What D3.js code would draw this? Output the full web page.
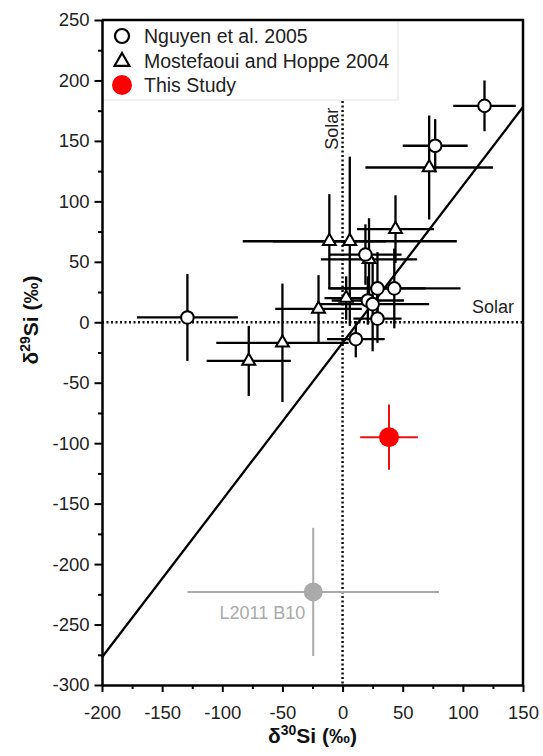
<!DOCTYPE html>
<html>
  <head>
    <meta charset="utf-8">
    <title>Si isotopes</title>
    <script src="https://d3js.org/d3.v7.min.js"></script>
    <style>
      body { margin: 0; background: #fff; }
      text { font-family: "Liberation Sans", Arial, sans-serif; }
    </style>
  </head>
  <body>

    <script>
      // ==================
      // data (per mil)
      // ==================
      // Nguyen et al. 2005 -> open circles
      const nguyenX    = [118, 77, -129, 19, 29, 43, 21, 25, 29, 11];
      const nguyenY    = [179, 146, 4, 56, 28, 28, 18, 15, 3, -14];
      const nguyenXErr = [26, 27, 42, 30, 40, 55, 30, 47, 20, 24];
      const nguyenYErr = [21, 22, 36, 25, 30, 33, 20, 39, 20, 15];

      // Mostefaoui and Hoppe 2004 -> open triangles
      const mostX    = [72, -11, 6, 44, 22, 3, -20, -50, -78];
      const mostY    = [128, 67, 67, 77, 52, 20, 11, -17, -32];
      const mostXErr = [53, 47, 89, 32, 40, 18, 36, 55, 35];
      const mostYErr = [43, 39, 70, 28, 34, 18, 28, 49, 29];

      // This study (red) and L2011 B10 (grey)
      const studyX = [38.6], studyY = [-95], studyXErr = [24], studyYErr = [27];
      const lX = [-24.4], lY = [-223], lXErr = [104.5], lYErr = [53];

      // slope line
      const lineX = [-200, 150];
      const lineY = [-277, 178];

      const xTicks = [-200, -150, -100, -50, 0, 50, 100, 150];
      const yTicks = [-300, -250, -200, -150, -100, -50, 0, 50, 100, 150, 200, 250];
      const xMinor = [-175, -125, -75, -25, 25, 75, 125];
      const yMinor = [-275, -225, -175, -125, -75, -25, 25, 75, 125, 175, 225];

      const legendLabels = ["Nguyen et al. 2005", "Mostefaoui and Hoppe 2004", "This Study"];

      function zip(xs, ys, xe, ye) {
        return xs.map(function(d, i) {
          return {x: d, y: ys[i], xe: xe[i], ye: ye[i]};
        });
      }

      // plain hyphen instead of d3's unicode minus
      function plain(d) { return String(d); }

      function drawChart() {
        const width = 543;
        const height = 756;
        const margin = {top: 20, right: 20, bottom: 71, left: 102};

        const svgContainer = d3.select("body")
          .append("svg")
            .attr("width", width)
            .attr("height", height);

        const xScale = d3.scaleLinear()
          .domain([-200, 150])
          .range([margin.left, width - margin.right]);

        const yScale = d3.scaleLinear()
          .domain([-300, 250])
          .range([height - margin.bottom, margin.top]);

        const nguyen = zip(nguyenX, nguyenY, nguyenXErr, nguyenYErr);
        const most = zip(mostX, mostY, mostXErr, mostYErr);
        const study = zip(studyX, studyY, studyXErr, studyYErr);
        const lit = zip(lX, lY, lXErr, lYErr);

        // solar reference lines (dotted)
        svgContainer.append("line")
          .attr("x1", xScale(-200)).attr("x2", xScale(150))
          .attr("y1", yScale(0)).attr("y2", yScale(0))
          .attr("stroke", "#111")
          .attr("stroke-width", 2.5)
          .attr("stroke-dasharray", "2,2.5");

        svgContainer.append("line")
          .attr("x1", xScale(0)).attr("x2", xScale(0))
          .attr("y1", yScale(250)).attr("y2", yScale(-300))
          .attr("stroke", "#111")
          .attr("stroke-width", 2.5)
          .attr("stroke-dasharray", "2,2.5");

        // slope line
        const line = d3.line()
          .x(function(d) { return xScale(d[0]); })
          .y(function(d) { return yScale(d[1]); });

        svgContainer.append("path")
          .attr("d", line(d3.zip(lineX, lineY)))
          .attr("fill", "none")
          .attr("stroke", "#000")
          .attr("stroke-width", 2.3);

        // error bars
        function errorBars(data, color, w) {
          const g = svgContainer.append("g")
            .attr("stroke", color)
            .attr("stroke-width", w);
          data.forEach(function(d) {
            g.append("line")
              .attr("x1", xScale(d.x - d.xe)).attr("x2", xScale(d.x + d.xe))
              .attr("y1", yScale(d.y)).attr("y2", yScale(d.y));
            g.append("line")
              .attr("x1", xScale(d.x)).attr("x2", xScale(d.x))
              .attr("y1", yScale(d.y - d.ye)).attr("y2", yScale(d.y + d.ye));
          });
        }

        errorBars(lit, "#aaaaaa", 2);
        errorBars(most, "#000", 2.3);
        errorBars(nguyen, "#000", 2.3);
        errorBars(study, "#ee1111", 2);

        const triangle = d3.symbol().type(d3.symbolTriangle).size(72);

        svgContainer.append("g").selectAll("path")
          .data(most)
          .enter().append("path")
            .attr("d", triangle)
            .attr("transform", function(d) {
              return "translate(" + xScale(d.x) + "," + yScale(d.y) + ")";
            })
            .attr("fill", "#fff")
            .attr("stroke", "#000")
            .attr("stroke-width", 2);

        svgContainer.append("g").selectAll("circle")
          .data(nguyen)
          .enter().append("circle")
            .attr("cx", function(d) { return xScale(d.x); })
            .attr("cy", function(d) { return yScale(d.y); })
            .attr("r", 6.3)
            .attr("fill", "#fff")
            .attr("stroke", "#000")
            .attr("stroke-width", 2);

        svgContainer.append("g").selectAll("circle")
          .data(lit)
          .enter().append("circle")
            .attr("cx", function(d) { return xScale(d.x); })
            .attr("cy", function(d) { return yScale(d.y); })
            .attr("r", 9.5)
            .attr("fill", "#aaaaaa");

        svgContainer.append("g").selectAll("circle")
          .data(study)
          .enter().append("circle")
            .attr("cx", function(d) { return xScale(d.x); })
            .attr("cy", function(d) { return yScale(d.y); })
            .attr("r", 10)
            .attr("fill", "#ff0000");

        // annotations
        svgContainer.append("text")
          .attr("x", xScale(lX[0]) - 8)
          .attr("y", yScale(lY[0]) + 27)
          .attr("text-anchor", "end")
          .attr("font-size", 18)
          .attr("fill", "#aaaaaa")
          .text("L2011 B10");

        svgContainer.append("text")
          .attr("x", xScale(150) - 9)
          .attr("y", yScale(0) - 9)
          .attr("text-anchor", "end")
          .attr("font-size", 18)
          .attr("fill", "#222")
          .text("Solar");

        svgContainer.append("text")
          .attr("transform", "translate(" + (xScale(0) - 5) + "," + yScale(160) + ") rotate(-90)")
          .attr("text-anchor", "middle")
          .attr("font-size", 18)
          .attr("fill", "#222")
          .text("Solar");

        // legend
        const legend = svgContainer.append("g");
        legend.append("rect")
          .attr("x", margin.left)
          .attr("y", margin.top)
          .attr("width", 296)
          .attr("height", 80)
          .attr("fill", "#fff")
          .attr("stroke", "#e4e4e4")
          .attr("stroke-width", 1);

        legendLabels.forEach(function(label, i) {
          const cy = 36 + i * 24.5;
          if (i === 0) {
            legend.append("circle")
              .attr("cx", 122).attr("cy", cy).attr("r", 7)
              .attr("fill", "#fff").attr("stroke", "#000").attr("stroke-width", 2.2);
          } else if (i === 1) {
            legend.append("path")
              .attr("d", d3.symbol().type(d3.symbolTriangle).size(95)())
              .attr("transform", "translate(122," + (cy + 1) + ")")
              .attr("fill", "#fff").attr("stroke", "#000").attr("stroke-width", 2.2);
          } else {
            legend.append("circle")
              .attr("cx", 122).attr("cy", cy).attr("r", 10)
              .attr("fill", "#ff0000");
          }
          legend.append("text")
            .attr("x", 144)
            .attr("y", cy + 7)
            .attr("font-size", 19.5)
            .attr("fill", "#222")
            .text(label);
        });

        // axes
        const xAxis = d3.axisBottom(xScale)
          .tickValues(xTicks).tickFormat(plain).tickSize(7).tickSizeOuter(0).tickPadding(14);
        const yAxis = d3.axisLeft(yScale)
          .tickValues(yTicks).tickFormat(plain).tickSize(7.5).tickSizeOuter(0).tickPadding(5);

        const gx = svgContainer.append("g")
          .classed("x-axis", true)
          .attr("transform", "translate(0," + (height - margin.bottom) + ")")
          .call(xAxis);

        gx.append("g")
          .call(d3.axisBottom(xScale).tickValues(xMinor).tickSize(4).tickSizeOuter(0).tickFormat(""))
          .select(".domain").remove();

        const gy = svgContainer.append("g")
          .classed("y-axis", true)
          .attr("transform", "translate(" + margin.left + ",0)")
          .call(yAxis);

        gy.append("g")
          .call(d3.axisLeft(yScale).tickValues(yMinor).tickSize(4).tickSizeOuter(0).tickFormat(""))
          .select(".domain").remove();

        svgContainer.selectAll(".x-axis .domain, .y-axis .domain").attr("stroke-width", 2.5);
        svgContainer.selectAll(".x-axis line, .y-axis line").attr("stroke-width", 2);
        svgContainer.selectAll(".x-axis text, .y-axis text")
          .attr("font-size", 18.5)
          .attr("font-family", "Liberation Sans, Arial, sans-serif")
          .attr("fill", "#222");

        // frame top + right
        svgContainer.append("path")
          .attr("d", "M" + xScale(-200) + "," + yScale(250) + "H" + xScale(150) + "V" + yScale(-300))
          .attr("fill", "none")
          .attr("stroke", "#000")
          .attr("stroke-width", 2.5);

        // axis titles
        const xt = svgContainer.append("text")
          .attr("x", (xScale(-200) + xScale(150)) / 2)
          .attr("y", 743)
          .attr("text-anchor", "middle")
          .attr("font-size", 21)
          .attr("font-weight", "bold")
          .attr("fill", "#111");
        xt.append("tspan").text("δ");
        xt.append("tspan").attr("font-size", 14).attr("dy", -8).text("30");
        xt.append("tspan").attr("dy", 8).text("Si (‰)");

        const yt = svgContainer.append("text")
          .attr("transform", "translate(38," + 320 + ") rotate(-90)")
          .attr("text-anchor", "middle")
          .attr("font-size", 21)
          .attr("font-weight", "bold")
          .attr("fill", "#111");
        yt.append("tspan").text("δ");
        yt.append("tspan").attr("font-size", 14).attr("dy", -8).text("29");
        yt.append("tspan").attr("dy", 8).text("Si (‰)");
      }
      drawChart();

    </script>
  </body>
</html>
